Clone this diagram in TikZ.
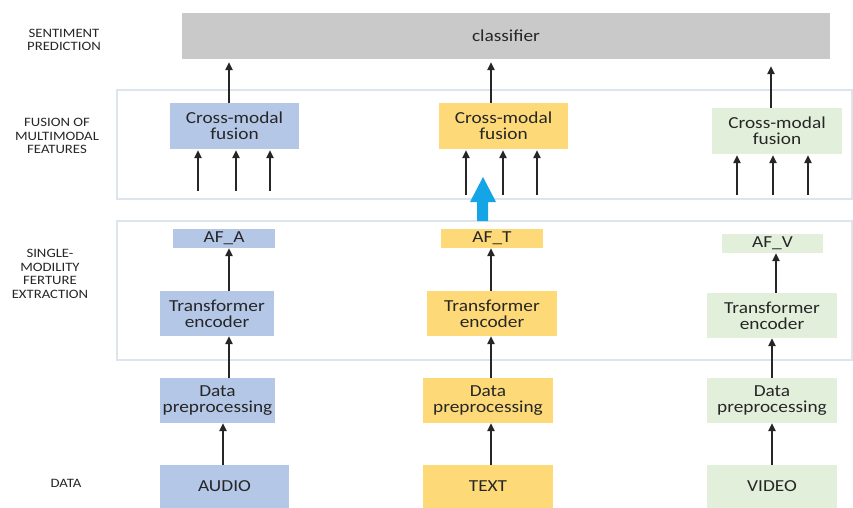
\documentclass[tikz,border=0pt]{standalone}
\usepackage{fontspec}
\setmainfont{Carlito}[FakeStretch=1.15]
\usetikzlibrary{arrows.meta}
\definecolor{cblue}{HTML}{B4C7E7}
\definecolor{cyellow}{HTML}{FDD978}
\definecolor{cgreen}{HTML}{E2EFDA}
\definecolor{cgray}{HTML}{C9C9C9}
\definecolor{panelline}{HTML}{DCE4EE}
\definecolor{bigarrow}{HTML}{14A5E6}
\definecolor{txt}{HTML}{262626}
\tikzset{
  box/.style={rectangle, inner sep=0pt, text=txt, align=center,
    font=\fontsize{16.8}{16}\selectfont},
  bluebox/.style={box, fill=cblue},
  yellowbox/.style={box, fill=cyellow},
  greenbox/.style={box, fill=cgreen},
  rowlabel/.style={text=txt, align=center, font=\fontsize{12.8}{13.6}\selectfont},
  panel/.style={draw=panelline, line width=1.5pt},
  flow/.style={line width=1.4pt, black!85, -{Triangle[length=8pt,width=7.5pt]}},
}
\begin{document}
\begin{tikzpicture}[x=1pt, y=-1pt]
\useasboundingbox (0,0) rectangle (853,508);

% layer panels
\draw[panel] (117,90) rectangle (852,199);
\draw[panel] (117,221) rectangle (852,360);

% row labels
\node[rowlabel] (lsent) at (64,40) {SENTIMENT\\PREDICTION};
\node[rowlabel] (lfus) at (57,136) {FUSION OF\\MULTIMODAL\\FEATURES};
\node[rowlabel] (lsingle) at (50,274) {SINGLE-\\MODILITY\\FERTURE\\EXTRACTION};
\node[rowlabel] (ldata) at (66,483) {DATA};

% classifier
\node[box, fill=cgray, minimum width=648pt, minimum height=46pt] (cls) at (506,36) {classifier};

% audio column
\node[bluebox, minimum width=129pt, minimum height=46pt] (fusA) at (234.5,126) {Cross-modal\\fusion};
\node[bluebox, minimum width=102pt, minimum height=19pt] (afA) at (224,238.5) {AF\_A};
\node[bluebox, minimum width=114pt, minimum height=45pt] (trA) at (217,313.5) {Transformer\\encoder};
\node[bluebox, minimum width=115pt, minimum height=45pt] (dpA) at (217.5,400.5) {Data\\preprocessing};
\node[bluebox, minimum width=129pt, minimum height=43pt] (audio) at (224.5,486.5) {AUDIO};

% text column
\node[yellowbox, minimum width=129pt, minimum height=46pt] (fusT) at (503.5,126) {Cross-modal\\fusion};
\node[yellowbox, minimum width=102pt, minimum height=19pt] (afT) at (492,238.5) {AF\_T};
\node[yellowbox, minimum width=130pt, minimum height=45pt] (trT) at (492,313.5) {Transformer\\encoder};
\node[yellowbox, minimum width=130pt, minimum height=45pt] (dpT) at (488,400.5) {Data\\preprocessing};
\node[yellowbox, minimum width=130pt, minimum height=43pt] (text) at (488,486.5) {TEXT};

% video column
\node[greenbox, minimum width=130pt, minimum height=46pt] (fusV) at (777,131) {Cross-modal\\fusion};
\node[greenbox, minimum width=101pt, minimum height=19pt] (afV) at (772.5,243.5) {AF\_V};
\node[greenbox, minimum width=130pt, minimum height=45pt] (trV) at (772,315.5) {Transformer\\encoder};
\node[greenbox, minimum width=130pt, minimum height=45pt] (dpV) at (772,400.5) {Data\\preprocessing};
\node[greenbox, minimum width=130pt, minimum height=43pt] (video) at (772,486.5) {VIDEO};

% fusion outputs to the classifier
\draw[flow, shorten >=3pt] (fusA.north -| 229,0) -- (cls.south -| 229,0);
\draw[flow, shorten >=3pt] (fusT.north -| 491,0) -- (cls.south -| 491,0);
\draw[flow, shorten >=7pt] (fusV.north -| 771,0) -- (cls.south -| 771,0);

% inputs of each fusion block
\coordinate (inA1) at (198,191); \coordinate (inA2) at (236,191); \coordinate (inA3) at (270,191);
\coordinate (inT1) at (466,195); \coordinate (inT2) at (503,195); \coordinate (inT3) at (537,195);
\coordinate (inV1) at (737,195); \coordinate (inV2) at (773,195); \coordinate (inV3) at (808,195);
\foreach \c in {A1,A2,A3} \draw[flow, shorten >=1pt] (in\c) -- (in\c |- fusA.south);
\foreach \c in {T1,T2,T3} \draw[flow, shorten >=1pt] (in\c) -- (in\c |- fusT.south);
\foreach \c in {V1,V2,V3} \draw[flow, shorten >=1pt] (in\c) -- (in\c |- fusV.south);

% single-modality chains
\draw[flow] (trA.north -| 229,0) -- (afA.south -| 229,0);
\draw[flow] (dpA.north -| 229,0) -- (trA.south -| 229,0);
\draw[flow] (audio.north -| 223,0) -- (dpA.south -| 223,0);

\draw[flow] (trT.north -| 491,0) -- (afT.south -| 491,0);
\draw[flow] (dpT.north -| 491,0) -- (trT.south -| 491,0);
\draw[flow] (text.north -| 491,0) -- (dpT.south -| 491,0);

\draw[flow] (trV.north -| 776,0) -- (afV.south -| 776,0);
\draw[flow] (dpV.north -| 772,0) -- (trV.south -| 772,0);
\draw[flow] (video.north -| 772,0) -- (dpV.south -| 772,0);

% block arrow between the two layers
\fill[bigarrow] (477,221) -- (488,221) -- (488,202) -- (496,202) -- (483,177)
  -- (470,202) -- (477,202) -- cycle;
\end{tikzpicture}
\end{document}
